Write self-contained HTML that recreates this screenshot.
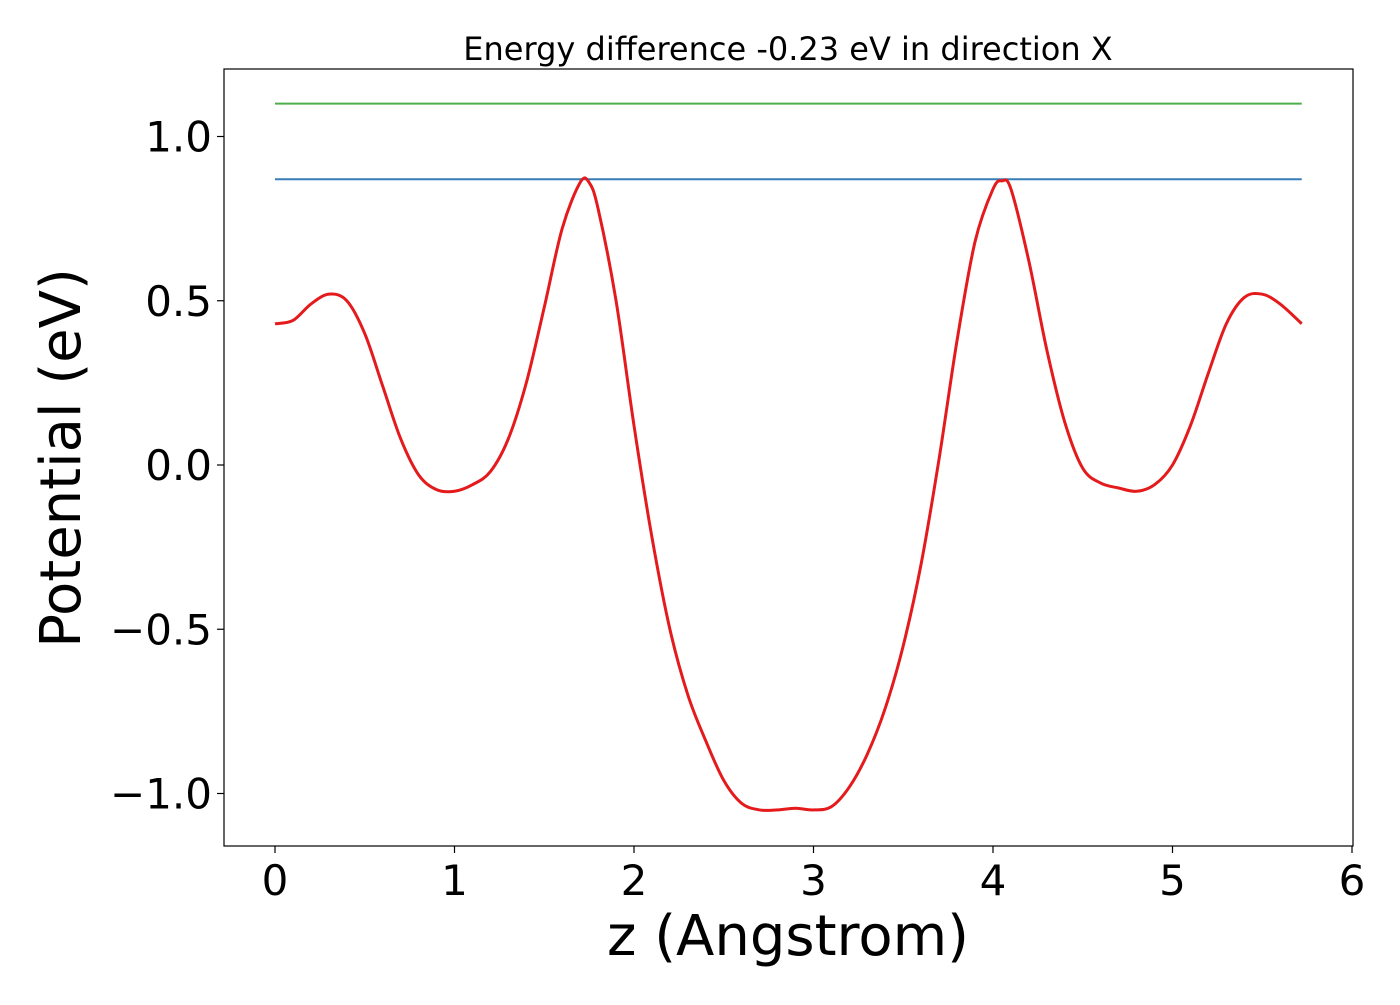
<!DOCTYPE html>
<html><head><meta charset="utf-8"><style>
html,body{margin:0;padding:0;background:#fff;}
svg text{font-family:"DejaVu Sans","Liberation Sans",sans-serif;}
</style></head><body>
<svg width="1400" height="1000" xmlns="http://www.w3.org/2000/svg">
<rect width="1400" height="1000" fill="#fff"/>
<text x="788" y="60" font-size="32" text-anchor="middle">Energy difference -0.23 eV in direction X</text>
<g id="plot"></g>
<rect x="224" y="69" width="1129" height="777" fill="none" stroke="#000" stroke-width="1.2"/>
<g id="xticks"></g><g id="yticks"></g>
<text x="788" y="955" font-size="56" text-anchor="middle">z (Angstrom)</text>
<text transform="translate(80,458) rotate(-90)" font-size="56" text-anchor="middle">Potential (eV)</text>
</svg>
<script>
const zValues=[0,0.1,0.2,0.3,0.4,0.5,0.6,0.7,0.8,0.9,1.0,1.1,1.2,1.3,1.4,1.5,1.6,1.7,1.75,1.8,1.9,2.0,2.1,2.2,2.3,2.4,2.5,2.6,2.7,2.8,2.9,3.0,3.1,3.2,3.3,3.4,3.5,3.6,3.7,3.8,3.9,4.0,4.05,4.1,4.2,4.3,4.4,4.5,4.6,4.7,4.8,4.9,5.0,5.1,5.2,5.3,5.4,5.5,5.6,5.72];
const potential=[0.43,0.44,0.49,0.52,0.50,0.40,0.24,0.08,-0.03,-0.075,-0.08,-0.06,-0.02,0.08,0.25,0.48,0.72,0.86,0.86,0.78,0.50,0.12,-0.22,-0.50,-0.70,-0.84,-0.96,-1.03,-1.05,-1.05,-1.045,-1.05,-1.04,-0.98,-0.88,-0.74,-0.55,-0.30,0.02,0.38,0.68,0.84,0.865,0.84,0.62,0.35,0.13,-0.01,-0.055,-0.07,-0.08,-0.06,0.00,0.12,0.28,0.43,0.51,0.52,0.49,0.43];
const levelBlue=0.87;
const levelGreen=1.10;
const lineStart=0, lineEnd=5.72;
const xTickVals=[0,1,2,3,4,5,6];
const yTickVals=[1.0,0.5,0.0,-0.5,-1.0];
const yTickLabels=["1.0","0.5","0.0","\u22120.5","\u22121.0"];

const NS="http://www.w3.org/2000/svg";
function xs(v){return 275+v*179.5;}
function ys(v){return 465-v*328.5;}
const plot=document.getElementById('plot');
function mk(t,a){const e=document.createElementNS(NS,t);for(const k in a)e.setAttribute(k,a[k]);return e;}

const g=mk('line',{x1:xs(lineStart),x2:xs(lineEnd),y1:ys(levelGreen),y2:ys(levelGreen),stroke:'#4daf4a','stroke-width':2});


plot.appendChild(g);
const b=mk('line',{x1:xs(lineStart),x2:xs(lineEnd),y1:ys(levelBlue),y2:ys(levelBlue),stroke:'#377eb8','stroke-width':2});


plot.appendChild(b);

// smooth path via Catmull-Rom
const pts=zValues.map((z,i)=>[xs(z),ys(potential[i])]);
let d='M'+pts[0][0]+','+pts[0][1];
for(let i=0;i<pts.length-1;i++){
 const p0=pts[Math.max(0,i-1)],p1=pts[i],p2=pts[i+1],p3=pts[Math.min(pts.length-1,i+2)];
 const c1=[p1[0]+(p2[0]-p0[0])/6,p1[1]+(p2[1]-p0[1])/6];
 const c2=[p2[0]-(p3[0]-p1[0])/6,p2[1]-(p3[1]-p1[1])/6];
 d+=' C'+c1+' '+c2+' '+p2;
}
const r=mk('path',{d:d,fill:'none',stroke:'#e41a1c','stroke-width':3});


plot.appendChild(r);

const xt=document.getElementById('xticks');
xTickVals.forEach(v=>{
 const l=mk('line',{x1:xs(v),x2:xs(v),y1:846,y2:853,stroke:'#000','stroke-width':1.2});
 
 
 xt.appendChild(l);
 const t=mk('text',{x:xs(v),y:895,'font-size':42,'text-anchor':'middle'});
 
 
 t.textContent=String(v);xt.appendChild(t);
});
const yt=document.getElementById('yticks');
yTickVals.forEach((v,i)=>{
 const l=mk('line',{x1:217,x2:224,y1:ys(v),y2:ys(v),stroke:'#000','stroke-width':1.2});
 
 
 yt.appendChild(l);
 const t=mk('text',{x:212,y:ys(v)+15,'font-size':42,'text-anchor':'end'});
 
 
 t.textContent=yTickLabels[i];yt.appendChild(t);
});
</script>
</body></html>
